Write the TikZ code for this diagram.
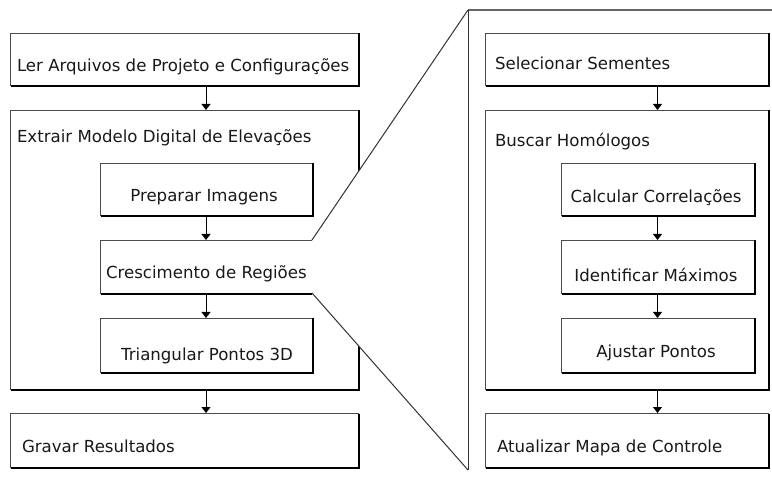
\documentclass[tikz,border=0pt]{standalone}
\usepackage{fontspec}
\setmainfont{DejaVu Sans}
\usetikzlibrary{arrows.meta,calc}
\tikzset{
  x=1pt, y=-1pt,
  boxnode/.style={draw=black!70, line width=0.9pt, rectangle, inner sep=0pt, outer sep=0pt, anchor=north west, fill=none},
  openbox/.style={rectangle, inner sep=0pt, outer sep=0pt, anchor=north west},
  shadeline/.style={draw=black, line width=1.1pt},
  txt/.style={inner sep=0pt, outer sep=0pt, text=black!90, font=\fontsize{16.6}{19}\selectfont},
  flow/.style={draw=black, line width=1pt, -{Triangle[width=9pt,length=6pt]}},
  zoomline/.style={draw=black!80, line width=1pt},
  zoomtop/.style={draw=black!60, line width=1.6pt}
}
\newcommand{\boxshade}[1]{%
  \draw[shadeline] ([xshift=1pt,yshift=-0.5pt]#1.north east) -- ([xshift=1pt,yshift=-1pt]#1.south east) -- ([xshift=0.5pt,yshift=-1pt]#1.south west);}
\begin{document}
\begin{tikzpicture}
\useasboundingbox[fill=white] (0,0) rectangle (772,481);

% ---------- left column ----------
\node[boxnode, minimum width=348pt, minimum height=52pt] (ler) at (10,33) {};
\node[boxnode, minimum width=348pt, minimum height=279pt] (extr) at (10,110) {};
\node[boxnode, minimum width=212pt, minimum height=52pt] (prep) at (100,163) {};
\node[openbox, minimum width=212pt, minimum height=53pt] (cresc) at (100,240) {};
\node[boxnode, minimum width=212pt, minimum height=54pt] (tri) at (100,318) {};
\node[boxnode, minimum width=348pt, minimum height=54pt] (grav) at (10,413) {};
\foreach \n in {ler,extr,prep,tri,grav} {\boxshade{\n}}

% ---------- zoom region ----------
\coordinate (ztl) at (468,10);
\coordinate (ztr) at (772,10);
\coordinate (zbl) at (468,470);
\coordinate (zbr) at (772,470);
\fill[white] (cresc.north east) -- (ztl) -- (ztr) -- (zbr) -- (zbl) -- (cresc.south east) -- cycle;
\draw[zoomline] (cresc.north east) -- (ztl);
\draw[zoomtop] (ztl) -- (ztr);
\draw[zoomline] (ztl) -- (zbl);
\draw[zoomline] (cresc.south east) -- (zbl);
\draw[boxnode] (cresc.north east) -- (cresc.north west) -- (cresc.south west) -- (cresc.south east);
\draw[shadeline] ([xshift=0.5pt,yshift=-1pt]cresc.south west) -- ([yshift=-1pt]cresc.south east);

% ---------- right column ----------
\node[boxnode, minimum width=283pt, minimum height=52pt] (sel) at (485,33) {};
\node[boxnode, minimum width=283pt, minimum height=279pt] (busc) at (485,110) {};
\node[boxnode, minimum width=193pt, minimum height=52pt] (calc) at (561,163) {};
\node[boxnode, minimum width=193pt, minimum height=53pt] (ident) at (561,240) {};
\node[boxnode, minimum width=193pt, minimum height=54pt] (ajust) at (561,318) {};
\node[boxnode, minimum width=283pt, minimum height=54pt] (atual) at (485,413) {};
\foreach \n in {sel,busc,calc,ident,ajust,atual} {\boxshade{\n}}

% ---------- texts ----------
\node[txt, anchor=base west] (lert) at (17,72) {Ler Arquivos de Projeto e Configurações};
\node[txt, anchor=base west] (extrt) at (17,143) {Extrair Modelo Digital de Elevações};
\node[txt, anchor=base] (prept) at (204,202) {Preparar Imagens};
\node[txt, anchor=base west] (crescct) at (106,279) {Crescimento de Regiões};
\node[txt, anchor=base] (trit) at (207,361) {Triangular Pontos 3D};
\node[txt, anchor=base west] (gravt) at (22,452) {Gravar Resultados};

\node[txt, anchor=base west] (selt) at (495,70) {Selecionar Sementes};
\node[txt, anchor=base west] (busct) at (495,147) {Buscar Homólogos};
\node[txt, anchor=base] (calct) at (656,203) {Calcular Correlações};
\node[txt, anchor=base] (identt) at (656,282) {Identificar Máximos};
\node[txt, anchor=base] (ajustt) at (656,358) {Ajustar Pontos};
\node[txt, anchor=base west] (atualt) at (497,452) {Atualizar Mapa de Controle};

% ---------- arrows ----------
\draw[flow] ([yshift=-1pt]ler.south -| prep.north) -- (extr.north -| prep.north);
\draw[flow] ([yshift=-1pt]prep.south) -- (cresc.north);
\draw[flow] ([yshift=-1pt]cresc.south) -- (tri.north);
\draw[flow] ([yshift=-1pt]extr.south -| prep.north) -- (grav.north -| prep.north);

\draw[flow] ([yshift=-1pt]sel.south -| calc.north) -- (busc.north -| calc.north);
\draw[flow] ([yshift=-1pt]calc.south) -- (ident.north);
\draw[flow] ([yshift=-1pt]ident.south) -- (ajust.north);
\draw[flow] ([yshift=-1pt]busc.south -| calc.north) -- (atual.north -| calc.north);
\end{tikzpicture}
\end{document}
